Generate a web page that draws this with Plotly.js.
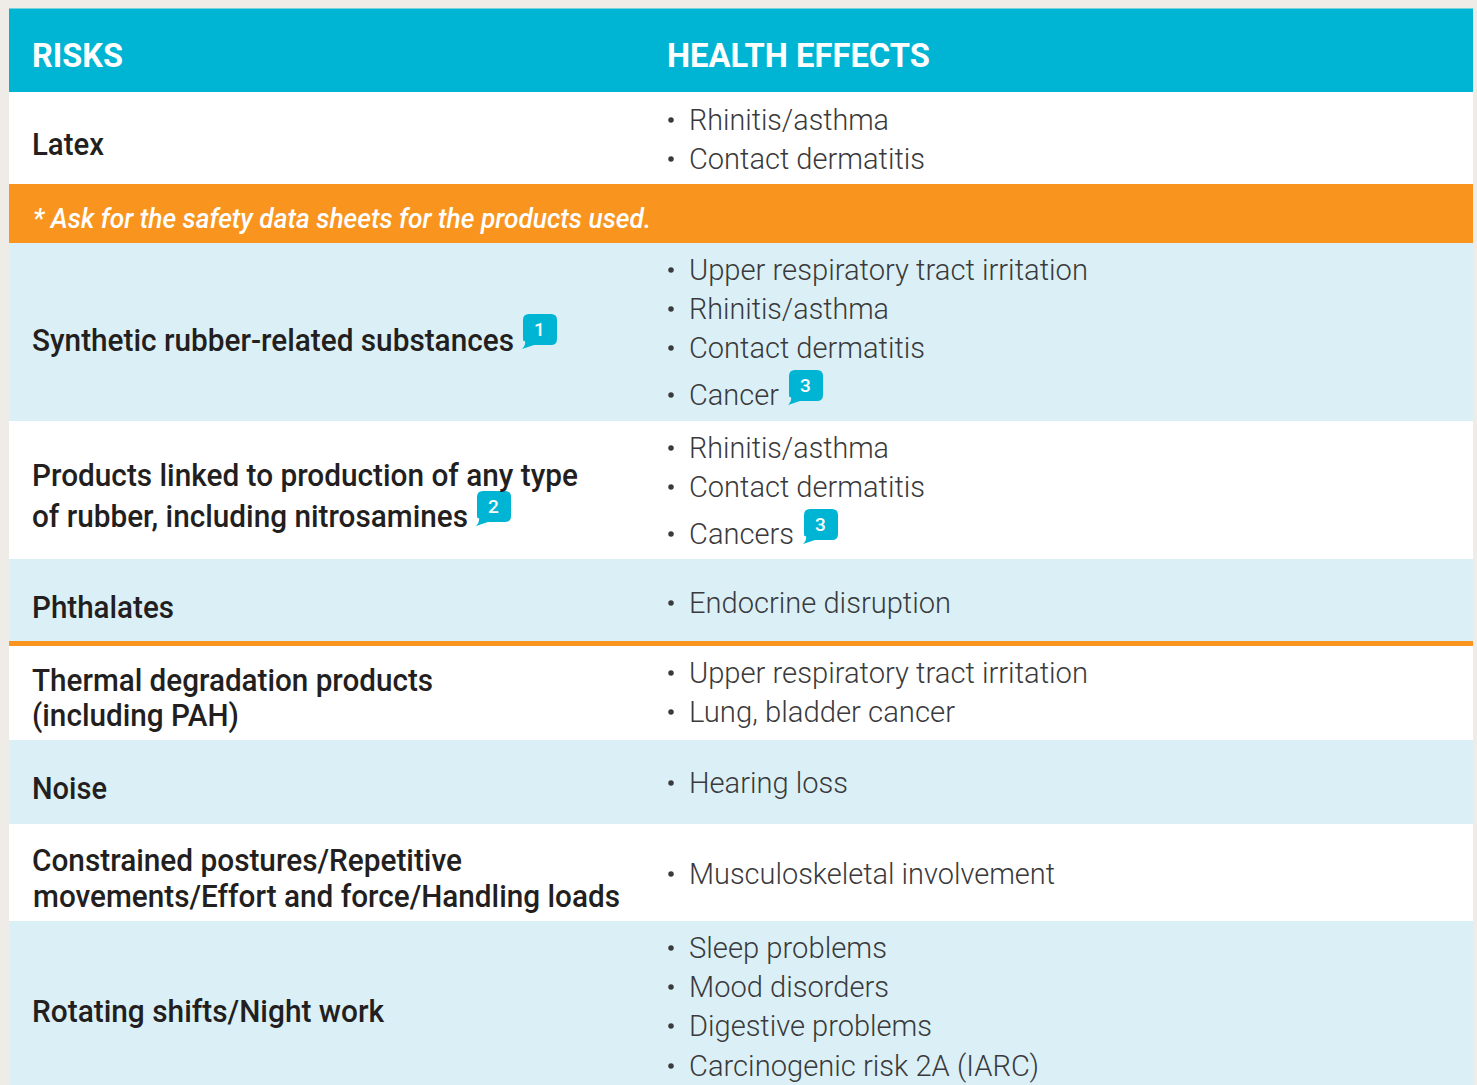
<!DOCTYPE html>
<html>
<head>
<meta charset="utf-8">
<script src="https://cdn.plot.ly/plotly-3.0.1.min.js"></script>
<style>html,body{margin:0;padding:0;background:#EFECE7;overflow:hidden}</style>
</head>
<body>
<div id="chart" style="width:1477px;height:1085px"></div>
<script>
// --- content ---
const headers = ["RISKS", "HEALTH EFFECTS"];
const notice = "* Ask for the safety data sheets for the products used.";
const riskLines = [
  "Latex",
  "Synthetic rubber-related substances",
  "Products linked to production of any type",
  "of rubber, including nitrosamines",
  "Phthalates",
  "Thermal degradation products",
  "(including PAH)",
  "Noise",
  "Constrained postures/Repetitive",
  "movements/Effort and force/Handling loads",
  "Rotating shifts/Night work"
];
const effectLines = [
  "Rhinitis/asthma", "Contact dermatitis",
  "Upper respiratory tract irritation", "Rhinitis/asthma", "Contact dermatitis", "Cancer",
  "Rhinitis/asthma", "Contact dermatitis", "Cancers",
  "Endocrine disruption",
  "Upper respiratory tract irritation", "Lung, bladder cancer",
  "Hearing loss",
  "Musculoskeletal involvement",
  "Sleep problems", "Mood disorders", "Digestive problems", "Carcinogenic risk 2A (IARC)"
];
const badgeLabels = ["1", "3", "2", "3"];

// --- layout of the table, in page pixels ---
const rowEdges    = [8.5, 92, 184, 243, 421, 559, 641, 646, 740, 824, 921, 1085];
const rowColors   = ["#00B5D3", "#FFFFFF", "#F9951F", "#DBF0F6", "#FFFFFF", "#DBF0F6", "#F9951F", "#FFFFFF", "#DBF0F6", "#FFFFFF", "#DBF0F6"];
const riskY       = [144, 340, 475, 516, 607, 680, 715, 788, 860, 896, 1011];
const riskWidth   = [72, 482, 546, 436, 142, 401, 207, 75, 430, 587, 352];
const effectY     = [120, 159, 270, 309, 348, 395, 448, 487, 534, 603, 673, 712, 783, 874, 948, 987, 1026, 1066];
const effectWidth = [200, 236, 399, 200, 236, 90, 200, 236, 105, 262, 399, 266, 159, 366, 198, 200, 243, 350];
const badgeX      = [523, 789, 477, 804];
const badgeY      = [314, 370, 491, 509];

const LEFT = 9, RIGHT = 1473, COL1 = 31, COL2 = 665.5, TEXT2 = 688;
const INK = "#231F20", INK2 = "#3A3A3C", TEAL = "#00B5D3";

const rowMid = rowColors.map((_, i) => (rowEdges[i] + rowEdges[i + 1]) / 2);
const rowH   = rowColors.map((_, i) => rowEdges[i + 1] - rowEdges[i]);

const traces = [
  { type: "bar", orientation: "h", y: rowMid, width: rowH, x: rowColors.map(() => RIGHT - LEFT), base: LEFT,
    marker: { color: rowColors, line: { width: 0 } }, hoverinfo: "skip", showlegend: false },
  { type: "scatter", mode: "markers", x: effectY.map(() => 671), y: effectY,
    marker: { color: INK2, size: 5.5 }, hoverinfo: "skip", showlegend: false }
];

const ann = [];
const widths = [];
function add(text, x, y, font, width) {
  ann.push({ text, x, y, xref: "x", yref: "y", xanchor: "left", yanchor: "middle", align: "left",
             showarrow: false, font: Object.assign({ family: "Roboto" }, font), borderpad: 0 });
  widths.push(width);
}
const boldHdr = { size: 33, weight: 700, color: "#FFFFFF" };
add(headers[0], COL1, 55, boldHdr, 91);
add(headers[1], COL2, 55.5, boldHdr, 263);
add(notice, 31.5, 218, { size: 28, weight: 500, style: "italic", color: "#FFFFFF" }, 618);
riskLines.forEach((t, i) => add(t, COL1 + (i === 9 ? 1 : 0), riskY[i], { size: 31, weight: 500, color: INK }, riskWidth[i]));
effectLines.forEach((t, i) => add(t, TEXT2, effectY[i] - 1, { size: 30, weight: 300, color: INK2 }, effectWidth[i]));

const shapes = badgeX.map((x, i) => {
  const y = badgeY[i], w = 34, h = 31, r = 6;
  return { type: "path", xref: "x", yref: "y", fillcolor: TEAL, line: { width: 0 },
    path: `M${x + r} ${y} H${x + w - r} Q${x + w} ${y} ${x + w} ${y + r} V${y + h - r} Q${x + w} ${y + h} ${x + w - r} ${y + h} H${x + 11} L${x - 1} ${y + 35} Q${x + 3} ${y + 31} ${x + 2} ${y + h - 4} Q${x} ${y + h - 3} ${x} ${y + h - r} V${y + r} Q${x} ${y} ${x + r} ${y} Z` };
});
badgeLabels.forEach((t, i) => {
  ann.push({ text: t, x: badgeX[i] + 16.5, y: badgeY[i] + 15, xref: "x", yref: "y", xanchor: "center", yanchor: "middle",
             showarrow: false, font: { family: "Roboto", size: 19, weight: 500, color: "#FFFFFF" } });
  widths.push(0);
});

const layout = {
  width: 1477, height: 1085, margin: { l: 0, r: 0, t: 0, b: 0 },
  paper_bgcolor: "#EFECE7", plot_bgcolor: "#EFECE7", showlegend: false, barmode: "overlay",
  xaxis: { range: [0, 1477], visible: false, fixedrange: true },
  yaxis: { range: [1085, 0], visible: false, fixedrange: true },
  shapes, annotations: ann
};

Plotly.newPlot("chart", traces, layout, { displayModeBar: false, staticPlot: true }).then(gd => {
  // the original face is a narrower cut: fit those lines to the width they have there
  gd.querySelectorAll(".annotation-text").forEach((el, i) => {
    if (widths[i]) {
      el.setAttribute("textLength", widths[i]);
      el.setAttribute("lengthAdjust", "spacingAndGlyphs");
    }
  });
});
</script>
</body>
</html>
